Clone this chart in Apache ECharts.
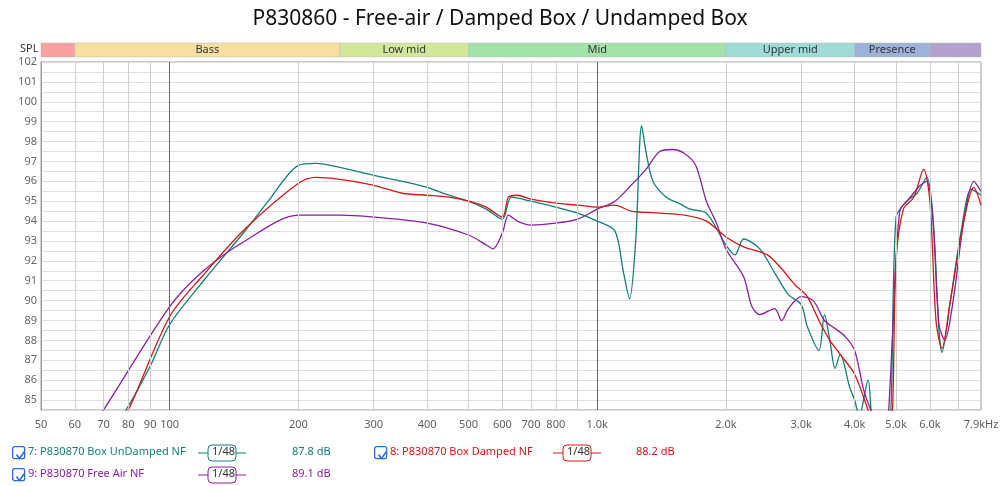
<!DOCTYPE html><html><head><meta charset="utf-8"><script src="https://cdn.jsdelivr.net/npm/echarts@6/dist/echarts.min.js"></script>
<style>html,body{margin:0;background:#fff}#c{width:1000px;height:486px}</style></head><body><div id="c"></div><script>
const undamped=[[75,84],[79,84.5],[90,86.7],[100,88.8],[120,91],[150,93.5],[170,95],[200,96.8],[220,96.9],[250,96.7],[300,96.3],[350,96.0],[400,95.7],[450,95.3],[500,95.0],[550,94.6],[600,94.1],[630,95.2],[700,95.0],[800,94.7],[900,94.4],[1000,94.0],[1100,93.5],[1150,91.5],[1190,90.1],[1230,93],[1270,98.8],[1300,97.5],[1350,96.0],[1450,95.2],[1550,94.9],[1650,94.6],[1800,94.4],[2000,92.8],[2100,92.3],[2200,93.1],[2400,92.6],[2600,91.4],[2800,90.3],[3000,89.8],[3100,88.7],[3300,87.5],[3400,89.3],[3500,88.0],[3600,86.6],[3700,87.3],[3900,85.6],[4000,85.0],[4100,84.2],[4300,86],[4450,83.5],[4700,83.5],[4850,84],[5000,94.2],[5300,95.0],[5600,95.4],[5900,96.2],[6100,94.2],[6300,88.5],[6400,87.4],[6700,90],[7100,93.5],[7500,95.6],[7900,95.3]];
const damped=[[76,84],[80,84.5],[100,89.2],[120,91.3],[150,93.6],[200,95.9],[220,96.2],[250,96.1],[300,95.8],[350,95.4],[400,95.3],[450,95.2],[500,95.0],[550,94.7],[600,94.2],[620,95.2],[650,95.3],[700,95.1],[800,94.9],[900,94.8],[1000,94.7],[1100,94.8],[1200,94.5],[1400,94.4],[1600,94.3],[1800,94.0],[2000,93.2],[2200,92.7],[2500,92.3],[2700,91.6],[2900,90.8],[3100,90.2],[3300,89.0],[3500,88.0],[3700,87.3],[4000,86.3],[4300,84.5],[4450,83.5],[4800,83.5],[4900,84.2],[5000,92],[5200,94.6],[5500,95.2],[5800,96.6],[6000,95.0],[6200,89.0],[6400,87.6],[6700,90.0],[7200,94.0],[7600,95.7],[7900,94.8]];
const freeair=[[66,83.8],[70,84.5],[100,89.7],[120,91.5],[150,93.0],[200,94.3],[250,94.3],[300,94.2],[400,93.9],[500,93.3],[550,92.8],[570,92.6],[600,93.4],[620,94.3],[650,94.0],[700,93.8],[800,93.9],[900,94.1],[1000,94.6],[1100,95.0],[1200,95.8],[1300,96.6],[1400,97.5],[1500,97.6],[1600,97.4],[1700,96.8],[1800,95.0],[1900,93.9],[2000,92.6],[2200,91.2],[2300,89.7],[2400,89.3],[2600,89.6],[2700,89.0],[2800,89.6],[3000,90.2],[3200,90.0],[3400,89.0],[3600,88.6],[3800,88.2],[4000,87.5],[4200,85.5],[4400,84.3],[4550,83.5],[4750,83.5],[4800,84.3],[4900,88],[5100,94.5],[5400,95.2],[5700,95.8],[5900,96.0],[6100,94],[6300,88.8],[6500,88.0],[6800,90],[7200,94],[7600,96.0],[7900,95.5]];
const xTicks=[50,60,70,80,90,100,200,300,400,500,600,700,800,1000,2000,3000,4000,5000,6000,7900];
const xTickLabels=['50','60','70','80','90','100','200','300','400','500','600','700','800','1.0k','2.0k','3.0k','4.0k','5.0k','6.0k','7.9kHz'];
const gridFreqs=[60,70,80,90,200,300,400,500,600,700,800,900,2000,3000,4000,5000,6000,7000];
const majorFreqs=[100,1000];
const bands=[['',50,60,'#f7a1a1'],['Bass',60,250,'#f7dfa0'],['Low mid',250,500,'#d3e79b'],['Mid',500,2000,'#a3e2a8'],['Upper mid',2000,4000,'#9fdcd7'],['Presence',4000,6000,'#9eb1db'],['',6000,7900,'#b1a1cc']];
const legendRows=[['7: P830870 Box UnDamped NF','#127e7a','87.8 dB',10,444,198,292],['8: P830870 Box Damped NF','#d01818','88.2 dB',372,444,553,636],['9: P830870 Free Air NF','#8a1f9e','89.1 dB',10,466,198,292]];
const yMin=84.5,yMax=102;
const ch=echarts.init(document.getElementById('c'));
const xa={type:'log',logBase:10,min:50,max:7900,axisLabel:{show:false},axisTick:{show:false},splitLine:{show:false},axisLine:{show:false}};
ch.setOption({animation:false,
title:{text:'P830860 - Free-air / Damped Box / Undamped Box',left:'center',top:4,textStyle:{fontFamily:'Noto Sans',fontWeight:'normal',fontSize:21,color:'#111'}},
grid:[{left:41,right:19,top:62,bottom:76,show:true,borderColor:'#999',borderWidth:1},{left:41,right:19,top:43,height:14,show:false}],
xAxis:[Object.assign({gridIndex:0},xa),Object.assign({gridIndex:1},xa)],
yAxis:[{gridIndex:0,type:'value',min:yMin,max:yMax,interval:0.5,axisLine:{show:true,lineStyle:{color:'#999'}},axisTick:{show:false},
 axisLabel:{fontFamily:'Noto Sans',fontSize:11,color:'#666',margin:4,formatter:v=>Number.isInteger(v)?String(v):''},
 splitLine:{lineStyle:{color:'#dedede'}}},
 {gridIndex:1,type:'value',min:0,max:1,show:false}],
graphic:[
 {type:'text',left:20,top:43,style:{text:'SPL',font:'11px Noto Sans',fill:'#333'}},
 ...legendRows.flatMap(([t,c,db,x,y,lx,dx])=>[
  {type:'rect',left:x+2,top:y+2,shape:{width:12,height:12,r:2},style:{fill:'#fff',stroke:'#2a6fd0',lineWidth:1.3}},
  {type:'polyline',left:x+4,top:y+5,shape:{points:[[0,3],[3,7],[8,0]]},style:{stroke:'#2a6fd0',lineWidth:1.6,fill:null}},
  {type:'text',left:x+18,top:y+2,style:{text:t,font:'11px Noto Sans',fill:c}},
  {type:'line',shape:{x1:lx,y1:y+9,x2:lx+48,y2:y+9},style:{stroke:c,lineWidth:1}},
  {type:'rect',shape:{x:lx+10,y:y+1,width:28,height:16,r:4},style:{fill:'#fff',stroke:c,lineWidth:1}},
  {type:'text',left:lx+14,top:y+2,style:{text:'1/48',font:'11px Noto Sans',fill:'#333'}},
  {type:'text',left:dx,top:y+2,style:{text:db,font:'11px Noto Sans',fill:c}}])
],
series:[
 {type:'line',xAxisIndex:1,yAxisIndex:1,data:[],markArea:{silent:true,label:{position:'inside',fontFamily:'Noto Sans',fontSize:11,color:'#333'},
   data:bands.map(b=>[{name:b[0],coord:[b[1],0],itemStyle:{color:b[3],borderColor:'#bbb',borderWidth:0.5}},{coord:[b[2],1]}])}},
 {type:'line',data:[],markLine:{silent:true,symbol:'none',label:{show:false},
   data:[...gridFreqs.map(f=>({xAxis:f,lineStyle:{color:'#cfcfcf',width:1,type:'solid'}})),...majorFreqs.map(f=>({xAxis:f,lineStyle:{color:'#666',width:1,type:'solid'}}))]}},
 {type:'scatter',symbolSize:0,silent:true,data:xTicks.map((f,i)=>({value:[f,yMin],label:{formatter:xTickLabels[i]}})),
   label:{show:true,position:'bottom',distance:9,fontFamily:'Noto Sans',fontSize:11,color:'#333'}},
 {name:'UnDamped',type:'line',data:undamped,smooth:0.3,symbol:'none',clip:true,lineStyle:{color:'#127e7a',width:1.3}},
 {name:'FreeAir',type:'line',data:freeair,smooth:0.3,symbol:'none',clip:true,lineStyle:{color:'#8a1f9e',width:1.3}},
 {name:'Damped',type:'line',data:damped,smooth:0.3,symbol:'none',clip:true,lineStyle:{color:'#d01818',width:1.3}}
]});
</script></body></html>
